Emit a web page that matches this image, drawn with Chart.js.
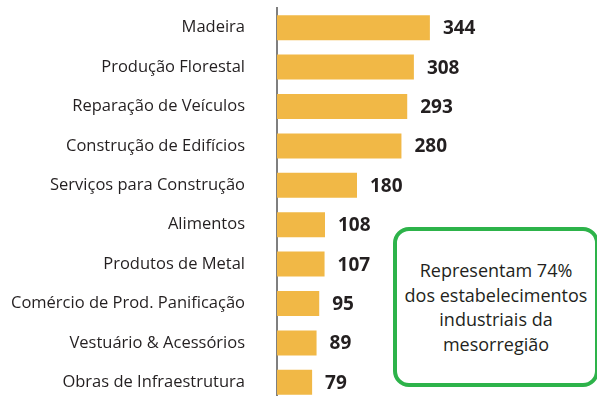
<!DOCTYPE html>
<html lang="pt-BR">
<head>
<meta charset="utf-8">
<title>Estabelecimentos industriais</title>
<script src="https://cdn.jsdelivr.net/npm/chart.js@4"></script>
<style>
  html, body { margin: 0; padding: 0; background: #fff; overflow: hidden; }
  #wrap { position: relative; width: 597px; height: 404px; }
  #callout {
    position: absolute; left: 393px; top: 227px; width: 206px; height: 160px;
    box-sizing: border-box; border: 4.5px solid #2db34a; border-radius: 16px;
    display: flex; align-items: center; justify-content: center; text-align: center;
    font: 18px "Open Sans", sans-serif; line-height: 24.5px; color: #231f20;
    background: #fff;
  }
</style>
</head>
<body>
<div id="wrap">
  <canvas id="chart" width="597" height="404"></canvas>
  <div id="callout">Representam 74%<br>dos estabelecimentos<br>industriais da<br>mesorregião</div>
</div>
<script>
const categories = [
  'Madeira',
  'Produção Florestal',
  'Reparação de Veículos',
  'Construção de Edifícios',
  'Serviços para Construção',
  'Alimentos',
  'Produtos de Metal',
  'Comércio de Prod. Panificação',
  'Vestuário & Acessórios',
  'Obras de Infraestrutura'
];
const establishments = [344, 308, 293, 280, 180, 108, 107, 95, 89, 79];

// numbers written just after the end of each bar
const valueLabels = {
  id: 'valueLabels',
  afterDatasetsDraw(chart) {
    const ctx = chart.ctx;
    const meta = chart.getDatasetMeta(0);
    ctx.save();
    ctx.font = 'bold 19px "Open Sans", sans-serif';
    ctx.fillStyle = '#231f20';
    ctx.textAlign = 'left';
    ctx.textBaseline = 'middle';
    meta.data.forEach((bar, i) => {
      ctx.fillText(String(establishments[i]), bar.x + 13, bar.y + 1);
    });
    ctx.restore();
  }
};

const ctx = document.getElementById('chart').getContext('2d');
new Chart(ctx, {
  type: 'bar',
  data: {
    labels: categories,
    datasets: [{
      data: establishments,
      backgroundColor: '#f1b846',
      borderWidth: 0,
      barPercentage: 0.635,
      categoryPercentage: 1
    }]
  },
  options: {
    indexAxis: 'y',
    responsive: false,
    animation: false,
    layout: { padding: { top: 8, right: 0, bottom: 2, left: 0 } },
    plugins: {
      legend: { display: false },
      tooltip: { enabled: false }
    },
    scales: {
      x: { display: false, min: 0, max: 720 },
      y: {
        afterFit(scale) {
          // fixed label column, and no extra room above/below the bars
          scale.width = 277;
          scale.paddingTop = 0;
          scale.paddingBottom = 0;
        },
        grid: { display: false },
        border: { display: true, color: '#7f7f7f', width: 2 },
        ticks: {
          padding: 24,
          color: '#231f20',
          font: { family: '"Open Sans", sans-serif', size: 16.5 }
        }
      }
    }
  },
  plugins: [valueLabels]
});
</script>
</body>
</html>
